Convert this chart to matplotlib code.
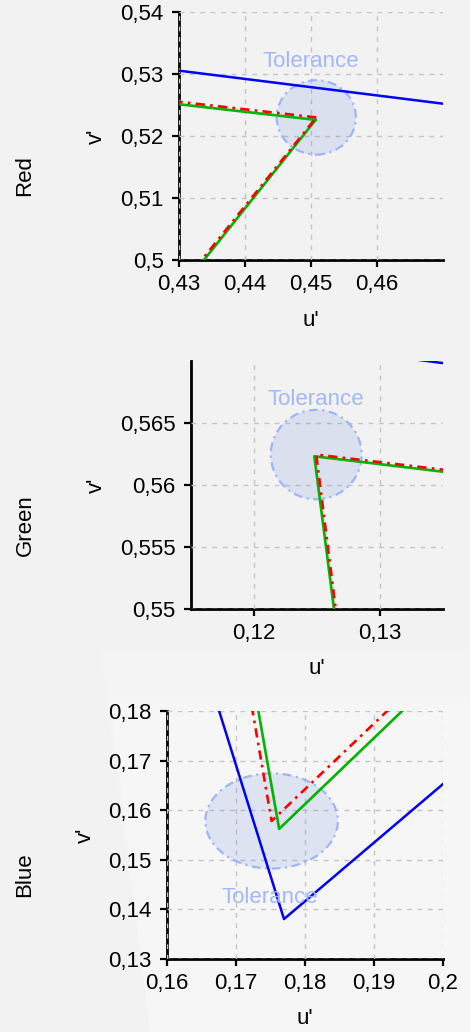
import numpy as np
from matplotlib import pyplot as plt
from matplotlib.patches import Circle, Polygon
from matplotlib.ticker import FuncFormatter

#gamut vertices in u'v' (R, G, B)
target_u = [0.4508, 0.12495, 0.1752]
target_v = [0.5230, 0.56244, 0.1578]
measured_u = [0.4507, 0.1248, 0.1763]
measured_v = [0.5226, 0.5623, 0.1562]
wide_u = [0.5009, 0.0787, 0.1770]
wide_v = [0.5211, 0.5773, 0.1380]

#one panel per primary
channels = ['Red', 'Green', 'Blue']
tol_radius = [0.006, 0.0036, 0.0096]
tol_text_u = [0.4500, 0.12495, 0.1750]
tol_text_v = [0.5320, 0.5669, 0.1424]

x_limits = [(0.43, 0.47), (0.115, 0.135), (0.16, 0.20)]
y_limits = [(0.50, 0.54), (0.55, 0.57), (0.13, 0.18)]
x_ticks = [[0.43, 0.44, 0.45, 0.46], [0.12, 0.13], [0.16, 0.17, 0.18, 0.19, 0.20]]
y_ticks = [[0.50, 0.51, 0.52, 0.53, 0.54], [0.55, 0.555, 0.56, 0.565],
           [0.13, 0.14, 0.15, 0.16, 0.17, 0.18]]

#axes boxes in pixels: left, top, right, bottom
boxes = [(179, 12, 443, 260), (190.7, 360.7, 443, 609), (166.7, 711, 442.7, 958.7)]
row_label_y = [176, 525, 875]
vlabel_x = [96, 96, 85]

W, H = 470, 1032
plt.rcParams['font.family'] = ['Liberation Sans', 'DejaVu Sans']
plt.rcParams['font.size'] = 16

fig = plt.figure(figsize=(W/100, H/100), dpi=100, facecolor='#f2f2f2')

#slightly lighter background areas at the bottom right (behind the axes)
fig.patches.append(Polygon([(100/W, 1 - 650/H), (1, 1 - 650/H), (1, 0), (150/W, 0)],
                           closed=True, transform=fig.transFigure,
                           facecolor='#f4f4f4', edgecolor='none', zorder=-10))
fig.patches.append(Polygon([(110/W, 1 - 700/H), (1, 1 - 700/H), (1, 0), (150/W, 0)],
                           closed=True, transform=fig.transFigure,
                           facecolor='#f6f6f6', edgecolor='none', zorder=-9))

comma = FuncFormatter(lambda val, pos: ('%g' % round(val, 4)).replace('.', ','))

def closed(a):
    return a + a[:1]

for i in range(3):
    l, t, r, b = boxes[i]
    ax = fig.add_axes([l/W, 1 - b/H, (r - l)/W, (b - t)/H])
    ax.patch.set_visible(False)

    #tolerance circle around the target primary
    ax.add_patch(Circle((target_u[i], target_v[i]), tol_radius[i],
                        facecolor=(0.39, 0.51, 0.86, 0.16), edgecolor='#9fb4ff',
                        linestyle=(0, (4, 2, 1, 2)), linewidth=1.6, zorder=1.8))
    ax.text(tol_text_u[i], tol_text_v[i], 'Tolerance', color='#9fb4ff',
            ha='center', va='center', fontsize=16, zorder=2.5, alpha=0.95)

    #gamut triangles
    ax.plot(closed(wide_u), closed(wide_v), color='#0000ff', lw=1.8, zorder=2)
    ax.plot(closed(measured_u), closed(measured_v), color='#00b400', lw=1.9, zorder=2.1)
    ax.plot(closed(target_u), closed(target_v), color='#ff0000', lw=1.9,
            linestyle=(0, (3.5, 2, 1, 2)), zorder=2.2)

    ax.set_xlim(x_limits[i])
    ax.set_ylim(y_limits[i])
    ax.set_xticks(x_ticks[i])
    ax.set_yticks(y_ticks[i])
    ax.xaxis.set_major_formatter(comma)
    ax.yaxis.set_major_formatter(comma)

    #format axes and grid
    ax.grid(True, color='#c4c4c4', linestyle=(0, (3.4, 4.1)), linewidth=1.0)
    ax.spines['right'].set_visible(False)
    ax.spines['top'].set_visible(False)
    for side in ['left', 'bottom']:
        ax.spines[side].set_linewidth(2.0)
        ax.spines[side].set_zorder(1)
    ax.tick_params(direction='out', length=5, width=1.6, colors='black', labelsize=16)
    ax.tick_params(axis='y', pad=6)
    ax.tick_params(axis='x', pad=5)

    #labels
    fig.text((l + r)/2/W, 1 - (b + 60)/H, "u'", ha='center', va='center', fontsize=16)
    fig.text(vlabel_x[i]/W, 1 - (t + b)/2/H, "v'", ha='center', va='center',
             rotation=90, fontsize=16)
    fig.text(25/W, 1 - row_label_y[i]/H, channels[i], ha='center', va='center',
             rotation=90, fontsize=16)

plt.savefig('out.png', dpi=100, facecolor=fig.get_facecolor())
